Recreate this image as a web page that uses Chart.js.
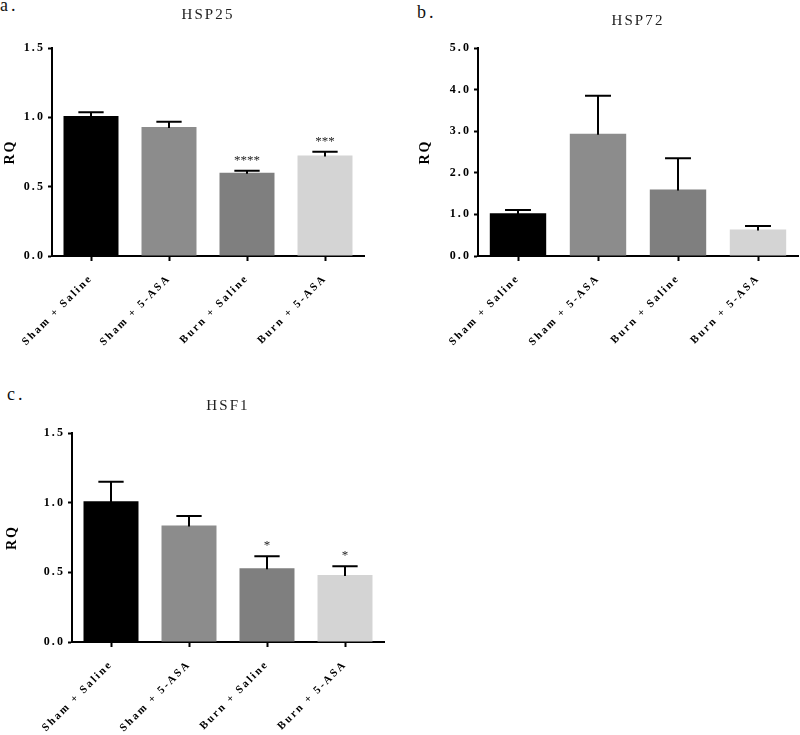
<!DOCTYPE html>
<html>
<head>
<meta charset="utf-8">
<script src="https://cdn.jsdelivr.net/npm/chart.js@4/dist/chart.umd.min.js"></script>
<style>
  html, body { margin: 0; padding: 0; background: #fff; }
  body { width: 800px; height: 735px; position: relative; overflow: hidden; }
  canvas { position: absolute; }
  .lab { position: absolute; font-family: 'Liberation Serif', serif; font-size: 18px; line-height: 18px; letter-spacing: 3px; color: #111; }
</style>
</head>
<body>
<div class="lab" style="left:0px; top:-4px;">a.</div>
<div class="lab" style="left:417px; top:3px;">b.</div>
<div class="lab" style="left:7px; top:385px;">c.</div>
<canvas id="cA" width="400" height="380" style="left:0px; top:0px;"></canvas>
<canvas id="cB" width="400" height="380" style="left:400px; top:0px;"></canvas>
<canvas id="cC" width="400" height="355" style="left:0px; top:380px;"></canvas>
<script>
// ---- data ----
const categories = ['Sham + Saline', 'Sham + 5-ASA', 'Burn + Saline', 'Burn + 5-ASA'];

const hsp25Mean = [1.01, 0.93, 0.60, 0.725];
const hsp25Err  = [0.026, 0.038, 0.015, 0.027];
const hsp25Sig  = ['', '', '****', '***'];
const hsp25Ticks = [0.0, 0.5, 1.0, 1.5];

const hsp72Mean = [1.03, 2.94, 1.60, 0.64];
const hsp72Err  = [0.075, 0.91, 0.75, 0.08];
const hsp72Sig  = ['', '', '', ''];
const hsp72Ticks = [0.0, 1.0, 2.0, 3.0, 4.0, 5.0];

const hsf1Mean = [1.01, 0.836, 0.529, 0.481];
const hsf1Err  = [0.14, 0.068, 0.087, 0.063];
const hsf1Sig  = ['', '', '*', '*'];
const hsf1Ticks = [0.0, 0.5, 1.0, 1.5];

const barColors = ['#000000', '#8c8c8c', '#7f7f7f', '#d4d4d4'];
const SERIF = "'Liberation Serif', 'DejaVu Serif', serif";

const spacingPlugin = {
  id: 'spacing',
  beforeUpdate(chart) { chart.ctx.letterSpacing = '2.1px'; },
  beforeDraw(chart) { chart.ctx.letterSpacing = '2.1px'; }
};

const errorBarPlugin = {
  id: 'errorBars',
  afterDatasetsDraw(chart) {
    const ds = chart.data.datasets[0];
    const meta = chart.getDatasetMeta(0);
    const ys = chart.scales.y;
    const c = chart.ctx;
    c.save();
    c.strokeStyle = '#000';
    c.lineWidth = 2;
    meta.data.forEach((bar, i) => {
      const top = ys.getPixelForValue(ds.data[i] + ds.errs[i]);
      const half = bar.width * 0.23;
      c.beginPath();
      c.moveTo(bar.x, bar.y + 1);
      c.lineTo(bar.x, top);
      c.moveTo(bar.x - half, top);
      c.lineTo(bar.x + half, top);
      c.stroke();
      if (ds.sigs[i]) {
        c.letterSpacing = '0px';
        c.fillStyle = '#222';
        c.font = '13px ' + SERIF;
        c.textAlign = 'center';
        c.textBaseline = 'alphabetic';
        c.fillText(ds.sigs[i], bar.x, top - 7);
      }
    });
    c.restore();
  }
};

function makePanel(id, title, means, errs, sigs, yTicks, geo) {
  return new Chart(document.getElementById(id), {
    type: 'bar',
    data: {
      labels: categories,
      datasets: [{
        data: means,
        errs: errs,
        sigs: sigs,
        backgroundColor: barColors,
        borderWidth: 0,
        barPercentage: 0.705,
        categoryPercentage: 1
      }]
    },
    options: {
      responsive: false,
      animation: false,
      devicePixelRatio: 1,
      layout: { padding: { left: 0, right: geo.right, top: 0, bottom: 0 } },
      plugins: {
        legend: { display: false },
        tooltip: { enabled: false },
        title: {
          display: true,
          text: title,
          fullSize: false,
          color: '#222',
          font: { family: SERIF, size: 15, weight: 'normal', lineHeight: 1.2 },
          padding: { top: geo.titleTop, bottom: geo.top - geo.titleTop - 18 }
        }
      },
      scales: {
        x: {
          offset: true,
          grid: { offset: false, drawOnChartArea: false, drawTicks: true, tickLength: 5, tickWidth: 2, tickColor: '#000' },
          border: { display: true, color: '#000', width: 2 },
          ticks: {
            autoSkip: false, maxRotation: 45, minRotation: 45, padding: 11, color: '#000',
            font: { family: SERIF, size: 11, weight: 'bold' }
          },
          afterFit: s => { s.height = geo.xh; }
        },
        y: {
          min: 0,
          max: yTicks[yTicks.length - 1],
          afterBuildTicks: s => { s.ticks = yTicks.map(v => ({ value: v })); },
          grid: { drawOnChartArea: false, drawTicks: true, tickLength: 4, tickWidth: 2, tickColor: '#000' },
          border: { display: true, color: '#000', width: 2 },
          ticks: {
            padding: 3, color: '#000',
            font: { family: SERIF, size: 12, weight: 'bold' },
            callback: v => Number(v).toFixed(1)
          },
          title: {
            display: true, text: 'RQ', color: '#000',
            font: { family: SERIF, size: 14, weight: 'bold', lineHeight: 1.2 },
            padding: { top: geo.rqPad, bottom: 0 }
          },
          afterFit: s => { s.width = geo.left; }
        }
      }
    },
    plugins: [spacingPlugin, errorBarPlugin]
  });
}

makePanel('cA', 'HSP25', hsp25Mean, hsp25Err, hsp25Sig, hsp25Ticks,
  { left: 52, right: 36, top: 48, titleTop: 6, xh: 124, rqPad: 2 });
makePanel('cB', 'HSP72', hsp72Mean, hsp72Err, hsp72Sig, hsp72Ticks,
  { left: 78, right: 2, top: 48, titleTop: 12, xh: 124, rqPad: 17 });
makePanel('cC', 'HSF1', hsf1Mean, hsf1Err, hsf1Sig, hsf1Ticks,
  { left: 72, right: 16, top: 53, titleTop: 17, xh: 93, rqPad: 4 });
</script>
</body>
</html>
